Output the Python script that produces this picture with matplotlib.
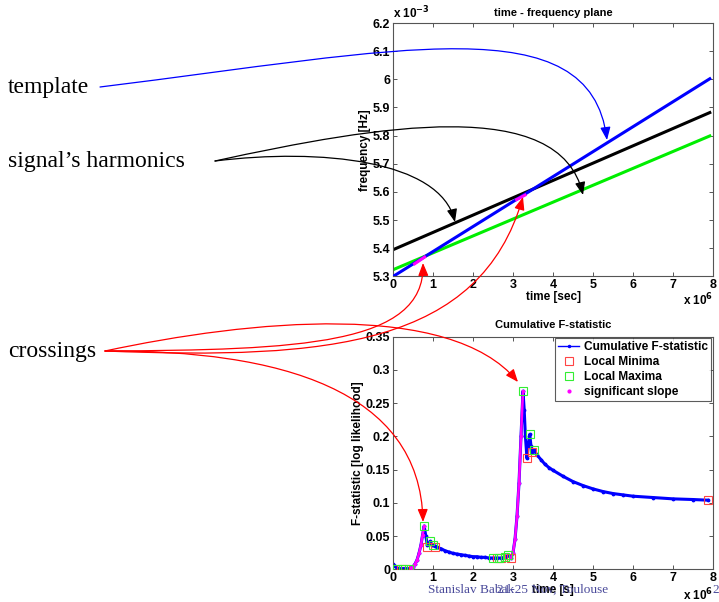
import numpy as np
import matplotlib
matplotlib.use("Agg")
import matplotlib.pyplot as plt
from matplotlib.patches import FancyArrowPatch
from matplotlib.path import Path
from matplotlib.lines import Line2D

# top panel: straight tracks in the time-frequency plane (t in 1e6 s, f in 1e-3 Hz)
track_t = [0.0, 7.92]
template_f = [5.300, 6.002]
harmonic1_f = [5.395, 5.882]
harmonic2_f = [5.324, 5.799]
# crossings highlighted on the template track
cross_segments = [([0.54, 0.79], [5.345, 5.369]),
                  ([3.09, 3.30], [5.573, 5.589])]

# bottom panel: cumulative F-statistic
fs_t = [0.00, 0.05, 0.10, 0.15, 0.20, 0.25, 0.30, 0.35, 0.40, 0.45,
        0.50, 0.55, 0.60, 0.65, 0.70, 0.74, 0.78, 0.82, 0.86, 0.90,
        0.93, 0.97, 1.00, 1.05, 1.10, 1.20, 1.30, 1.40, 1.50, 1.60,
        1.70, 1.80, 1.90, 2.00, 2.10, 2.20, 2.30, 2.40, 2.50, 2.60,
        2.70, 2.80, 2.88, 2.95, 3.00, 3.05, 3.10, 3.15, 3.20, 3.25,
        3.28, 3.31, 3.35, 3.38, 3.42, 3.45, 3.48, 3.53, 3.60, 3.70,
        3.80, 3.90, 4.00, 4.25, 4.50, 4.75, 5.00, 5.25, 5.50, 5.75,
        6.00, 6.50, 7.00, 7.50, 7.87]
fs_val = [0.008, 0.005, 0.002, 0.001, 0.001, 0.001, 0.001, 0.001, 0.001, 0.002,
          0.004, 0.008, 0.014, 0.024, 0.037, 0.052, 0.065, 0.050, 0.036, 0.038,
          0.042, 0.037, 0.036, 0.035, 0.033, 0.031, 0.028, 0.026, 0.024, 0.023,
          0.022, 0.021, 0.020, 0.019, 0.019, 0.018, 0.018, 0.017, 0.017, 0.017,
          0.017, 0.018, 0.021, 0.017, 0.025, 0.045, 0.080, 0.130, 0.200, 0.268,
          0.240, 0.200, 0.167, 0.185, 0.203, 0.185, 0.176, 0.179, 0.172, 0.165,
          0.158, 0.153, 0.149, 0.140, 0.132, 0.126, 0.121, 0.117, 0.114, 0.112,
          0.110, 0.108, 0.106, 0.105, 0.104]
min_t = [0.20, 0.30, 0.86, 1.05, 2.60, 2.70, 2.95, 3.35, 3.48, 7.87]
min_val = [0.001, 0.001, 0.034, 0.034, 0.017, 0.017, 0.017, 0.167, 0.176, 0.104]
max_t = [0.10, 0.25, 0.40, 0.78, 0.93, 1.00, 2.50, 2.65, 2.80, 2.88, 3.25, 3.42, 3.53]
max_val = [0.001, 0.001, 0.001, 0.065, 0.042, 0.036, 0.017, 0.017, 0.018, 0.021,
           0.268, 0.203, 0.179]
slope_ranges = [(0.45, 0.78), (2.95, 3.25)]

plt.rcParams["font.family"] = ["Liberation Sans", "DejaVu Sans"]
plt.rcParams["font.weight"] = "bold"

W, H = 719, 602
fig = plt.figure(figsize=(W / 100, H / 100), dpi=100)


def P(x, y):
    return (x / W, 1 - y / H)


def style_axes(ax):
    for sp in ax.spines.values():
        sp.set_color("#555555")
        sp.set_linewidth(0.8)
    ax.tick_params(direction="in", top=True, right=True, length=3,
                   width=0.7, color="#555555", labelsize=9, pad=2)
    for lab in ax.get_xticklabels() + ax.get_yticklabels():
        lab.set_fontweight("bold")


# ---- top: time-frequency plane
ax1 = fig.add_axes([393 / W, 1 - 276.5 / H, 320 / W, 253.5 / H])
ax1.plot(track_t, template_f, color="blue", lw=2.2, zorder=3)
ax1.plot(track_t, harmonic1_f, color="black", lw=2.2, zorder=2)
ax1.plot(track_t, harmonic2_f, color="#00ee00", lw=2.2, zorder=2)
for st, sf in cross_segments:
    ax1.plot(st, sf, color="magenta", lw=2.2, zorder=4)
ax1.set_xlim(0, 8)
ax1.set_ylim(5.3, 6.2)
ax1.set_xticks(range(9))
ax1.set_yticks([5.3, 5.4, 5.5, 5.6, 5.7, 5.8, 5.9, 6.0, 6.1, 6.2])
ax1.set_yticklabels(["5.3", "5.4", "5.5", "5.6", "5.7", "5.8", "5.9", "6", "6.1", "6.2"])
style_axes(ax1)
ax1.set_title("time - frequency plane", fontsize=8, fontweight="bold", pad=5)
ax1.set_xlabel("time [sec]", fontsize=8.5, fontweight="bold", labelpad=0)
ax1.set_ylabel("frequency [Hz]", fontsize=8.5, fontweight="bold", labelpad=1)
ax1.text(0.0, 1.008, r"x 10$^{\mathbf{-3}}$", transform=ax1.transAxes,
         fontsize=8.5, fontweight="bold", ha="left", va="bottom")
ax1.text(1.0, -0.06, r"x 10$^{\mathbf{6}}$", transform=ax1.transAxes,
         fontsize=8.5, fontweight="bold", ha="right", va="top")

# ---- bottom: cumulative F-statistic
ax2 = fig.add_axes([393 / W, 1 - 569.3 / H, 320 / W, 232.6 / H])
t_arr = np.array(fs_t)
v_arr = np.array(fs_val)
ax2.plot(fs_t, fs_val, color="blue", lw=2.2, marker=".", ms=3.5, zorder=2)
for lo, hi in slope_ranges:
    m = (t_arr >= lo) & (t_arr <= hi)
    ax2.plot(t_arr[m], v_arr[m], color="magenta", lw=1.8, marker=".", ms=3, zorder=3)
ax2.plot(min_t, min_val, ls="none", marker="s", ms=6, mfc="none",
         mec="#ff4444", mew=0.8, zorder=4)
ax2.plot(max_t, max_val, ls="none", marker="s", ms=6, mfc="none",
         mec="#33ee33", mew=0.8, zorder=4)
ax2.set_xlim(0, 8)
ax2.set_ylim(0, 0.35)
ax2.set_xticks(range(9))
ax2.set_yticks([0, 0.05, 0.1, 0.15, 0.2, 0.25, 0.3, 0.35])
ax2.set_yticklabels(["0", "0.05", "0.1", "0.15", "0.2", "0.25", "0.3", "0.35"])
style_axes(ax2)
ax2.set_title("Cumulative F-statistic", fontsize=8, fontweight="bold", pad=6)
ax2.set_xlabel("time [s]", fontsize=8.5, fontweight="bold", labelpad=0)
ax2.set_ylabel("F-statistic [log likelihood]", fontsize=8.5, fontweight="bold", labelpad=1)
ax2.text(1.0, -0.075, r"x 10$^{\mathbf{6}}$", transform=ax2.transAxes,
         fontsize=8.5, fontweight="bold", ha="right", va="top")

handles = [
    Line2D([], [], color="blue", lw=1, marker=".", ms=3),
    Line2D([], [], ls="none", marker="s", ms=6, mfc="none", mec="#ff4444", mew=0.8),
    Line2D([], [], ls="none", marker="s", ms=6, mfc="none", mec="#33ee33", mew=0.8),
    Line2D([], [], ls="none", marker=".", ms=4, color="magenta"),
]
labels = ["Cumulative F-statistic", "Local Minima", "Local Maxima", "significant slope"]
leg = ax2.legend(handles, labels, loc="upper right", frameon=True,
                 fancybox=False, edgecolor="#333333", handlelength=1.8,
                 handletextpad=0.4, borderpad=0.25, labelspacing=0.25,
                 borderaxespad=0.15, prop={"weight": "bold", "size": 8.6})
leg.get_frame().set_linewidth(0.8)

# ---- slide annotations
serif = ["Liberation Serif", "DejaVu Serif"]
for txt, y in [("template", 87), ("signal\u2019s harmonics", 161), ("crossings", 351)]:
    fig.text(*P(8, y), txt, family=serif, fontweight="normal",
             fontsize=17, ha="left", va="center")

arrows = [
    ("blue", [(100, 87), (400, 50), (590, 5), (607, 140)]),
    ("black", [(215, 161), (380, 125), (560, 95), (583, 195)]),
    ("black", [(215, 161), (320, 148), (440, 160), (455, 222)]),
    ("red", [(105, 351), (300, 350), (425, 345), (423, 263)]),
    ("red", [(105, 351), (330, 360), (480, 345), (523, 197)]),
    ("red", [(105, 351), (250, 320), (450, 300), (518, 382)]),
    ("red", [(105, 351), (280, 350), (420, 390), (423, 522)]),
]
for col, pts in arrows:
    verts = [P(x, y) for x, y in pts]
    path = Path(verts, [Path.MOVETO, Path.CURVE4, Path.CURVE4, Path.CURVE4])
    arr = FancyArrowPatch(path=path, arrowstyle="-|>,head_length=0.55,head_width=0.22",
                          mutation_scale=14, color=col, lw=0.9,
                          transform=fig.transFigure, zorder=10)
    fig.patches.append(arr)

# footer
foot = "#4a4a9a"
fig.text(*P(428, 590), "Stanislav Babak", family=serif, fontweight="normal",
         fontsize=9.5, color=foot, ha="left", va="center")
fig.text(*P(497, 590), "21-25 Nov, Toulouse", family=serif, fontweight="normal",
         fontsize=9.5, color=foot, ha="left", va="center", zorder=0)
fig.text(*P(712, 590), "20/26", family=serif, fontweight="normal",
         fontsize=9.5, color=foot, ha="left", va="center", zorder=0)

fig.savefig("out.png", dpi=100)
